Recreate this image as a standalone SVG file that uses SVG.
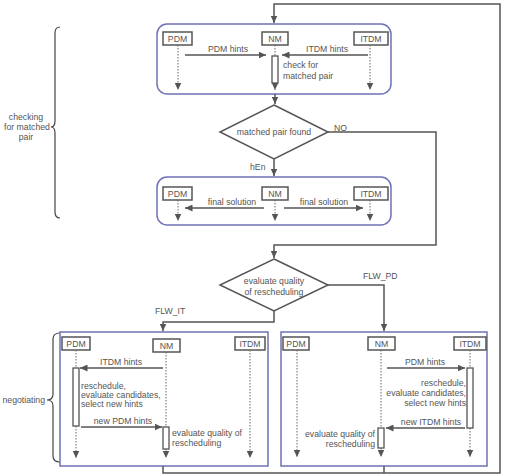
<svg xmlns="http://www.w3.org/2000/svg" width="505" height="476" viewBox="0 0 505 476">
<defs>
<marker id="ah" markerUnits="userSpaceOnUse" markerWidth="8" markerHeight="7" refX="7.5" refY="3.5" orient="auto"><path d="M0,0 L7.5,3.5 L0,7 z" fill="#555"/></marker>
<style>
text{font-family:"Liberation Sans",Arial,sans-serif;font-size:8.7px;fill:#555}
.m{text-anchor:middle}.e{text-anchor:end}
.box{fill:#fff;stroke:#555;stroke-width:1.5}
.act{fill:#fff;stroke:#555;stroke-width:1.3}
.panel{fill:none;stroke:#6f71b6;stroke-width:1.5}
.life{stroke:#666;stroke-width:1;stroke-dasharray:1.5,1.5;fill:none}
.ln{stroke:#555;stroke-width:1.5;fill:none}
.br{stroke:#444;stroke-width:1.2;fill:none}
</style>
</defs>
<rect width="505" height="476" fill="#fff"/>

<g id="braces">
<path class="br" d="M60,27 Q55,27 55,33 L55,121 Q55,127 51,127 Q55,127 55,133 L55,212 Q55,218 60,218"/>
<text class="m" x="26" y="120">checking</text>
<text class="m" x="27" y="130">for matched</text>
<text class="m" x="26" y="140">pair</text>
<path class="br" d="M60,333 Q53,333 53,339 L53,394 Q53,400 47,400 Q53,400 53,406 L53,456 Q53,462 60,462"/>
<text class="e" x="45" y="403">negotiating</text>
</g>

<g id="check-panel">
<rect class="panel" x="157" y="24" width="234" height="70" rx="10"/>
<rect class="box" x="163" y="32" width="29" height="13"/><text class="m" x="177.5" y="41.5">PDM</text>
<rect class="box" x="262" y="32" width="26" height="13"/><text class="m" x="275" y="41.5">NM</text>
<rect class="box" x="354" y="32" width="34" height="13"/><text class="m" x="371" y="41.5">ITDM</text>
<line class="life" x1="178" y1="45" x2="178" y2="90" marker-end="url(#ah)"/>
<line class="life" x1="370" y1="45" x2="370" y2="90" marker-end="url(#ah)"/>
<line class="life" x1="275" y1="45" x2="275" y2="56"/>
<line class="life" x1="275" y1="83" x2="275" y2="90" marker-end="url(#ah)"/>
<rect class="act" x="272" y="56" width="6" height="27"/>
<line class="ln" x1="185" y1="55" x2="266" y2="55" marker-end="url(#ah)"/>
<text class="m" x="228" y="52">PDM hints</text>
<line class="ln" x1="368" y1="55" x2="282" y2="55" marker-end="url(#ah)"/>
<text class="m" x="327" y="52">ITDM hints</text>
<text x="283" y="68">check for</text>
<text x="283" y="79">matched pair</text>
</g>

<g id="matched-decision">
<polygon points="274,105 328,132 274,159 220,132" fill="#fff" stroke="#555" stroke-width="1.5"/>
<text class="m" x="274" y="135">matched pair found</text>
</g>

<g id="final-panel">
<rect class="panel" x="157" y="177" width="234" height="48" rx="10"/>
<rect class="box" x="163" y="187" width="29" height="13"/><text class="m" x="177.5" y="196.5">PDM</text>
<rect class="box" x="262" y="187" width="26" height="13"/><text class="m" x="275" y="196.5">NM</text>
<rect class="box" x="354" y="187" width="34" height="13"/><text class="m" x="371" y="196.5">ITDM</text>
<line class="life" x1="178" y1="200" x2="178" y2="221" marker-end="url(#ah)"/>
<line class="life" x1="275" y1="200" x2="275" y2="221" marker-end="url(#ah)"/>
<line class="life" x1="370" y1="200" x2="370" y2="221" marker-end="url(#ah)"/>
<line class="ln" x1="264" y1="208" x2="185" y2="208" marker-end="url(#ah)"/>
<text class="m" x="232" y="205">final solution</text>
<line class="ln" x1="284" y1="208" x2="363" y2="208" marker-end="url(#ah)"/>
<text class="m" x="324" y="205">final solution</text>
</g>

<g id="quality-decision">
<polygon points="274,259 328,285 274,311 220,285" fill="#fff" stroke="#555" stroke-width="1.5"/>
<text class="m" x="274" y="284">evaluate quality</text>
<text class="m" x="274" y="295">of rescheduling</text>
</g>

<g id="negotiate-itdm">
<rect class="panel" x="60" y="332" width="208" height="134"/>
<rect class="box" x="62" y="337" width="28" height="13"/><text class="m" x="76" y="346.5">PDM</text>
<rect class="box" x="153" y="339" width="27" height="13"/><text class="m" x="166.5" y="348.5">NM</text>
<rect class="box" x="235" y="337" width="30" height="13"/><text class="m" x="250" y="346.5">ITDM</text>
<line class="life" x1="76" y1="350" x2="76" y2="368"/>
<line class="life" x1="76" y1="426" x2="76" y2="458" marker-end="url(#ah)"/>
<line class="life" x1="166" y1="352" x2="166" y2="427"/>
<line class="life" x1="166" y1="449" x2="166" y2="458" marker-end="url(#ah)"/>
<line class="life" x1="250" y1="350" x2="250" y2="458" marker-end="url(#ah)"/>
<rect class="act" x="73" y="368" width="6" height="58"/>
<rect class="act" x="163" y="427" width="6" height="22"/>
<line class="ln" x1="163" y1="368" x2="80" y2="368" marker-end="url(#ah)"/>
<text class="m" x="121" y="365">ITDM hints</text>
<text x="81" y="389">reschedule,</text>
<text x="81" y="398">evaluate candidates,</text>
<text x="81" y="407">select new hints</text>
<line class="ln" x1="81" y1="427" x2="162" y2="427" marker-end="url(#ah)"/>
<text class="m" x="123" y="424">new PDM hints</text>
<text x="172" y="436">evaluate quality of</text>
<text x="172" y="446">rescheduling</text>
</g>

<g id="negotiate-pdm">
<rect class="panel" x="281" y="332" width="206" height="134"/>
<rect class="box" x="283" y="337" width="26" height="13"/><text class="m" x="296" y="346.5">PDM</text>
<rect class="box" x="368" y="337" width="27" height="13"/><text class="m" x="381.5" y="346.5">NM</text>
<rect class="box" x="454" y="337" width="32" height="13"/><text class="m" x="470" y="346.5">ITDM</text>
<line class="life" x1="297" y1="350" x2="297" y2="457" marker-end="url(#ah)"/>
<line class="life" x1="381" y1="350" x2="381" y2="428"/>
<line class="life" x1="381" y1="448" x2="381" y2="457" marker-end="url(#ah)"/>
<line class="life" x1="470" y1="350" x2="470" y2="368"/>
<line class="life" x1="470" y1="428" x2="470" y2="457" marker-end="url(#ah)"/>
<rect class="act" x="467" y="368" width="6" height="60"/>
<rect class="act" x="378" y="428" width="6" height="20"/>
<line class="ln" x1="387" y1="368" x2="465" y2="368" marker-end="url(#ah)"/>
<text class="m" x="425" y="365">PDM hints</text>
<text class="e" x="466" y="386">reschedule,</text>
<text class="e" x="466" y="396">evaluate candidates,</text>
<text class="e" x="466" y="406">select new hints</text>
<line class="ln" x1="465" y1="428" x2="386" y2="428" marker-end="url(#ah)"/>
<text class="m" x="431" y="425">new ITDM hints</text>
<text class="e" x="375" y="437">evaluate quality of</text>
<text class="e" x="375" y="447">rescheduling</text>
</g>

<g id="connectors">
<polyline class="ln" points="163,466 163,473 500,473 500,4 274,4 274,23" marker-end="url(#ah)"/>
<line class="ln" x1="384" y1="466" x2="384" y2="473"/>
<line class="ln" x1="275" y1="94" x2="275" y2="104" marker-end="url(#ah)"/>
<line class="ln" x1="274" y1="159" x2="274" y2="176" marker-end="url(#ah)"/>
<text x="250" y="170">hEn</text>
<polyline class="ln" points="328,132 436,132 436,245 274,245 274,258" marker-end="url(#ah)"/>
<text x="334" y="131">NO</text>
<polyline class="ln" points="328,285 384,285 384,331" marker-end="url(#ah)"/>
<text x="363" y="279">FLW_PD</text>
<polyline class="ln" points="274,311 274,322 163,322 163,331" marker-end="url(#ah)"/>
<text x="155" y="314">FLW_IT</text>
</g>
</svg>
